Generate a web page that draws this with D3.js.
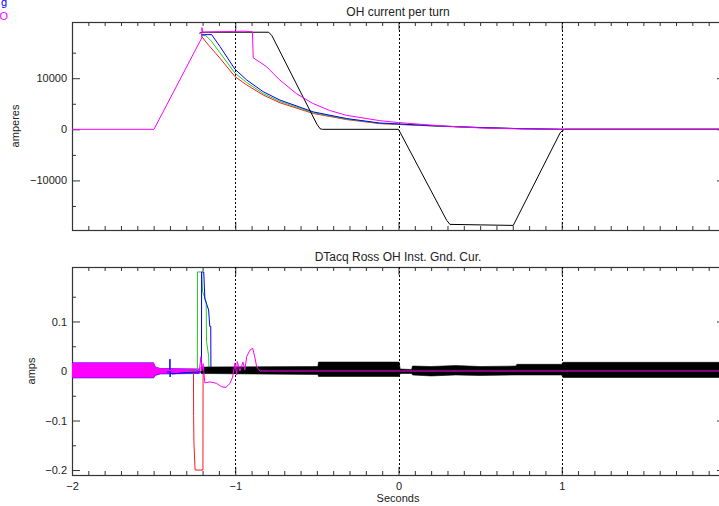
<!DOCTYPE html>
<meta charset="utf-8">
<head>
  <title>OH current per turn</title>
</head>
<style>
body { margin: 0; background: #fff; }
svg { display: block; }
text { font-family: "Liberation Sans", Arial, sans-serif; fill: #222; }
.axis text { font-size: 11px; }
.axis line { stroke: #333; }
.axis path { display: none; }
</style>
<body>
<svg width="719" height="506"></svg>
<script src="https://cdnjs.cloudflare.com/ajax/libs/d3/7.8.5/d3.min.js"></script>
<script>

// ---- data: [seconds, value] ----
var xMajorTicks = [-2, -1, 0, 1];
var markerTimes = [-1, 0, 1];

// top panel: OH current per turn (amperes)
var topMajorTicks = [-10000, 0, 10000];
var topMinorTicks = [-15000, -5000, 5000, 15000];

var ohRed = [[-1.21, 18300], [-1.206, 18200], [-1.175, 16900], [-1.094, 13940], [-1.002, 10320], [-0.93, 8680],
    [-0.829, 6710], [-0.726, 5190], [-0.522, 3100], [-0.318, 1910], [-0.116, 1120], [0, 950],
    [0.25, 600], [0.5, 330], [0.75, 120], [1, 0], [2, 0]];
var ohGreen = [[-1.21, 18400], [-1.18, 18300], [-1.15, 17400], [-1.094, 15000], [-1.002, 11000], [-0.93, 9150],
    [-0.829, 7000], [-0.726, 5450], [-0.522, 3250], [-0.318, 2000], [-0.116, 1180], [0, 1000],
    [0.25, 620], [0.5, 340], [0.75, 120], [1, 0], [2, 0]];
var ohBlue = [[-1.21, 18500], [-1.145, 18540], [-1.094, 16230], [-1.002, 11770], [-0.93, 9660], [-0.829, 7360],
    [-0.726, 5720], [-0.522, 3410], [-0.318, 2110], [-0.116, 1240], [0, 1050],
    [0.25, 650], [0.5, 350], [0.75, 130], [1, 0], [2, 0]];
var ohBlack = [[-1.22, 18800], [-1.2, 19000], [-0.795, 19000], [-0.775, 18300], [-0.5, 1000], [-0.48, 100],
    [-0.465, 0], [0, 0], [0.295, -17800], [0.315, -18600], [0.5, -18700], [0.703, -18800],
    [0.99, -700], [1.005, -200], [1.02, 0], [2, 0]];
var ohMagenta = [[-2, 0], [-1.498, 0], [-1.205, 17900], [-1.204, 19900], [-1.2, 19000], [-1.1, 19100],
    [-0.95, 19200], [-0.895, 19100], [-0.89, 14000], [-0.81, 12300], [-0.729, 9700], [-0.626, 7000],
    [-0.527, 5100], [-0.423, 3700], [-0.32, 2750], [-0.116, 1700], [0, 1320], [0.25, 700],
    [0.5, 270], [0.75, 80], [1, 0], [2, 0]];

// bottom panel: DTacq Ross OH inst. ground current (amps)
var botMajorTicks = [-0.2, -0.1, 0, 0.1];
var botMinorTicks = [-0.15, -0.05, 0.05, 0.15];

// noisy traces kept as envelopes: [seconds, high, low]
var gndBlueBand = [[-2, 0.0165, -0.014], [-1.5, 0.0165, -0.014], [-1.49, 0.008, -0.009], [-1.46, 0.005, -0.006],
    [-1.22, 0.004, -0.005]];
var gndMagentaBand = [[-2, 0.016, -0.013], [-1.5, 0.016, -0.013], [-1.49, 0.008, -0.008], [-1.46, 0.005, -0.005],
    [-1.3, 0.004, -0.004], [-1.22, 0.004, -0.004]];
var gndBlackBand = [[-1.21, 0.008, -0.005], [-0.494, 0.009, -0.007], [-0.49, 0.018, -0.011], [0.004, 0.018, -0.011],
    [0.01, 0.004, -0.005], [0.08, 0.003, -0.005], [0.086, 0.01, -0.008], [0.2, 0.009, -0.01], [0.35, 0.011, -0.008],
    [0.5, 0.009, -0.009], [0.72, 0.01, -0.008], [0.725, 0.0135, -0.008], [1.0, 0.0135, -0.008],
    [1.007, 0.0175, -0.013], [2, 0.0175, -0.013]];

var gndRed = [[-1.3, 0], [-1.256, 0], [-1.255, -0.09], [-1.253, -0.145], [-1.246, -0.2], [-1.198, -0.2],
    [-1.197, 0], [2, 0]];
var gndGreen = [[-1.3, 0], [-1.232, 0], [-1.231, 0.2], [-1.206, 0.2], [-1.2, 0.16], [-1.178, 0.14],
    [-1.176, 0.06], [-1.163, 0.03], [-1.161, 0], [-0.5, 0]];
var gndBlue = [[-1.42, -0.002], [-1.401, -0.002], [-1.4, 0.024], [-1.399, -0.012], [-1.398, -0.002],
    [-1.385, -0.006], [-1.36, -0.005], [-1.3, -0.003], [-1.207, -0.002], [-1.206, 0.2], [-1.193, 0.2],
    [-1.186, 0.145], [-1.175, 0.135], [-1.163, 0.123], [-1.156, 0.09], [-1.15, 0.09], [-1.149, -0.003],
    [-0.5, -0.003]];
var gndMagenta = [[-1.5, 0.001], [-1.22, 0.001], [-1.21, 0.029], [-1.205, 0.0], [-1.197, 0.015],
    [-1.186, -0.024], [-1.155, -0.022], [-1.114, -0.025], [-1.083, -0.032], [-1.057, -0.033],
    [-1.032, -0.025], [-1.016, -0.012], [-1.002, 0.016], [-0.991, -0.008], [-0.988, 0.019],
    [-0.971, 0.0], [-0.953, 0.018], [-0.941, 0.002], [-0.93, 0.029], [-0.91, 0.042], [-0.893, 0.046],
    [-0.879, 0.026], [-0.869, 0.009], [-0.849, 0.0], [2, 0]];

var colors = {red: "#ff1a1a", green: "#22cc22", blue: "#0000ff", black: "#000000", magenta: "#ff00ff"};

// ---- layout ----
var svg = d3.select("svg");
var x = d3.scaleLinear().domain([-2, 2]).range([72, 725]);
var xMinor = d3.range(-20, 21).map(function (i) { return i / 10; })
    .filter(function (v) { return xMajorTicks.indexOf(v) < 0; });

function panel(top, bottom, yDomain, majors, minors, fmt, showXLabels, id) {
    var y = d3.scaleLinear().domain(yDomain).range([bottom, top]);
    var g = svg.append("g");

    g.append("clipPath").attr("id", id)
        .append("rect").attr("x", x.range()[0]).attr("y", top)
        .attr("width", x.range()[1] - x.range()[0]).attr("height", bottom - top);

    // minor ticks
    g.append("g").attr("class", "axis").attr("transform", "translate(0," + bottom + ")")
        .call(d3.axisBottom(x).tickValues(xMinor).tickSize(-4).tickFormat(""));
    g.append("g").attr("class", "axis").attr("transform", "translate(0," + top + ")")
        .call(d3.axisTop(x).tickValues(xMinor).tickSize(-4).tickFormat(""));
    g.append("g").attr("class", "axis").attr("transform", "translate(" + x.range()[0] + ",0)")
        .call(d3.axisLeft(y).tickValues(minors).tickSize(-4).tickFormat(""));
    g.append("g").attr("class", "axis").attr("transform", "translate(" + x.range()[1] + ",0)")
        .call(d3.axisRight(y).tickValues(minors).tickSize(-4).tickFormat(""));

    // major ticks
    g.append("g").attr("class", "axis").attr("transform", "translate(0," + bottom + ")")
        .call(d3.axisBottom(x).tickValues(xMajorTicks).tickSize(-8).tickPadding(7)
            .tickFormat(showXLabels ? d3.format("d") : ""));
    g.append("g").attr("class", "axis").attr("transform", "translate(0," + top + ")")
        .call(d3.axisTop(x).tickValues(xMajorTicks).tickSize(-8).tickFormat(""));
    g.append("g").attr("class", "axis").attr("transform", "translate(" + x.range()[0] + ",0)")
        .call(d3.axisLeft(y).tickValues(majors).tickSize(-8).tickPadding(5).tickFormat(fmt));
    g.append("g").attr("class", "axis").attr("transform", "translate(" + x.range()[1] + ",0)")
        .call(d3.axisRight(y).tickValues(majors).tickSize(-8).tickFormat(""));

    g.append("rect")
        .attr("x", x.range()[0] + 0.5).attr("y", top + 0.5)
        .attr("width", x.range()[1] - x.range()[0]).attr("height", bottom - top)
        .attr("fill", "none").attr("stroke", "#333").attr("stroke-width", 1.2);

    var plot = g.append("g").attr("clip-path", "url(#" + id + ")");

    plot.selectAll("line.marker").data(markerTimes).enter().append("line")
        .attr("class", "marker")
        .attr("x1", function (d) { return Math.round(x(d)) + 0.5; })
        .attr("x2", function (d) { return Math.round(x(d)) + 0.5; })
        .attr("y1", top).attr("y2", bottom)
        .attr("stroke", "#000").attr("stroke-width", 1).attr("stroke-dasharray", "2,2");

    return {g: g, plot: plot, y: y};
}

function drawLine(p, data, color) {
    var line = d3.line().x(function (d) { return x(d[0]); }).y(function (d) { return p.y(d[1]); });
    p.plot.append("path").datum(data).attr("d", line)
        .attr("fill", "none").attr("stroke", color).attr("stroke-width", 1)
        .attr("stroke-linejoin", "round");
}

function drawBand(p, data, color) {
    var area = d3.area().x(function (d) { return x(d[0]); })
        .y0(function (d) { return p.y(d[2]); })
        .y1(function (d) { return p.y(d[1]); });
    p.plot.append("path").datum(data).attr("d", area)
        .attr("fill", color).attr("stroke", color).attr("stroke-width", 0.6);
}

// ---- top panel ----
var topP = panel(22, 230, [-19700, 21000], topMajorTicks, topMinorTicks, d3.format("d"), false, "clipTop");
drawLine(topP, ohRed, colors.red);
drawLine(topP, ohGreen, colors.green);
drawLine(topP, ohBlue, colors.blue);
drawLine(topP, ohBlack, colors.black);
drawLine(topP, ohMagenta, colors.magenta);

svg.append("text").attr("x", 398).attr("y", 16).attr("text-anchor", "middle")
    .style("font-size", "12px").text("OH current per turn");
svg.append("text").attr("transform", "translate(19,126) rotate(-90)").attr("text-anchor", "middle")
    .style("font-size", "11px").text("amperes");

// ---- bottom panel ----
var botFmt = function (d) { return d === 0 ? "0" : d3.format(".1f")(d); };
var botP = panel(267, 475, [-0.21, 0.21], botMajorTicks, botMinorTicks, botFmt, true, "clipBot");
drawBand(botP, gndBlueBand, colors.blue);
drawBand(botP, gndMagentaBand, colors.magenta);
drawLine(botP, gndRed, colors.red);
drawLine(botP, gndGreen, colors.green);
drawLine(botP, gndBlue, colors.blue);
drawBand(botP, gndBlackBand, colors.black);
drawLine(botP, gndMagenta, colors.magenta);

svg.append("text").attr("x", 398).attr("y", 261).attr("text-anchor", "middle")
    .style("font-size", "12px").text("DTacq Ross OH Inst. Gnd. Cur.");
svg.append("text").attr("transform", "translate(35,371) rotate(-90)").attr("text-anchor", "middle")
    .style("font-size", "11px").text("amps");
svg.append("text").attr("x", 398).attr("y", 502).attr("text-anchor", "middle")
    .style("font-size", "11px").text("Seconds");

// clipped legend fragments at the top-left corner
svg.append("text").attr("x", 7).attr("y", 6).attr("text-anchor", "end")
    .style("font-size", "11px").style("fill", colors.blue).text("g");
svg.append("text").attr("x", 8).attr("y", 20).attr("text-anchor", "end")
    .style("font-size", "11px").style("fill", colors.magenta).text("O");

</script>
</body>
</html>
